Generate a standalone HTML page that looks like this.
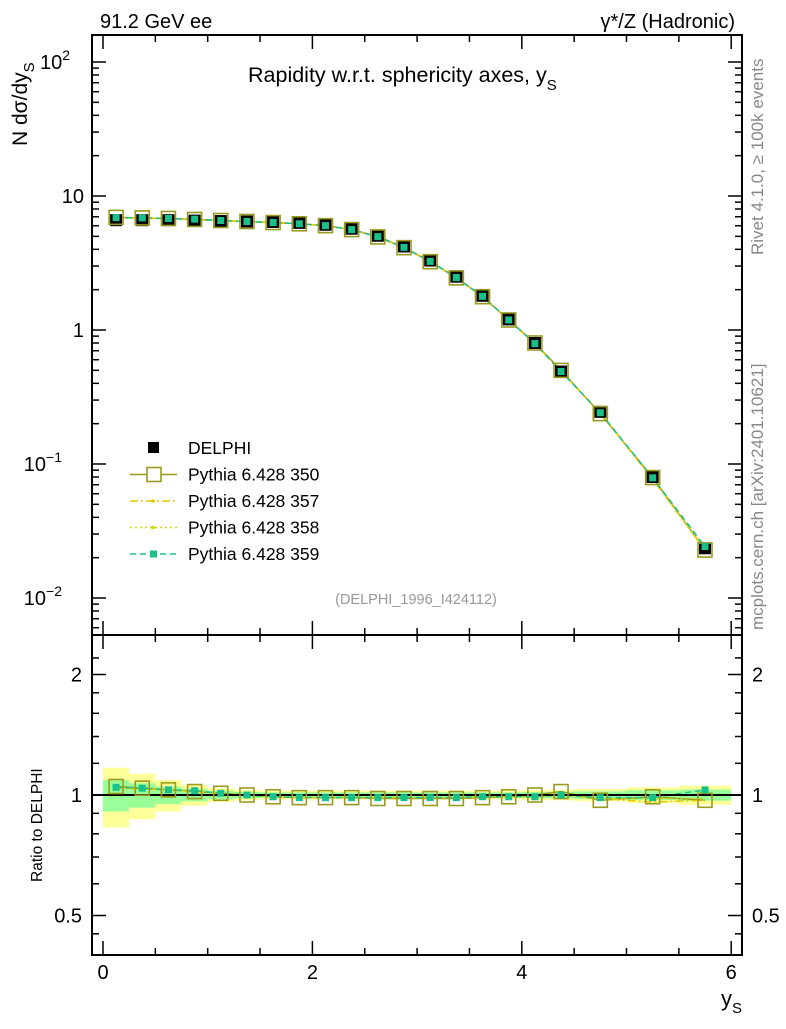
<!DOCTYPE html>
<html><head><meta charset="utf-8"><style>
body{margin:0;background:#fff;}
svg{font-family:"Liberation Sans",sans-serif;}
</style></head><body>
<svg id="chart" width="786" height="1024" viewBox="0 0 786 1024" xmlns="http://www.w3.org/2000/svg">
<g id="bands"></g>
<g id="marks"></g>
<g id="axes"></g>
<text x="100" y="28" font-size="20">91.2 GeV ee</text>
<text x="735" y="28" font-size="20" text-anchor="end">γ*/Z (Hadronic)</text>
<text x="248" y="82" font-size="21.5">Rapidity w.r.t. sphericity axes, y<tspan font-size="15" dy="8">S</tspan></text>
<text transform="translate(27,146) rotate(-90)" font-size="21">N   dσ/dy<tspan font-size="15" dy="7">S</tspan></text>
<text transform="translate(42,882) rotate(-90)" font-size="15.5">Ratio to DELPHI</text>
<text x="742" y="1006" font-size="22" text-anchor="end">y<tspan font-size="15" dy="7">S</tspan></text>
<text transform="translate(763,255) rotate(-90)" font-size="17" fill="#888">Rivet 4.1.0, ≥ 100k events</text>
<text transform="translate(763,630) rotate(-90)" font-size="17" fill="#888">mcplots.cern.ch [arXiv:2401.10621]</text>
<text x="416" y="604" font-size="14.5" fill="#999" text-anchor="middle">(DELPHI_1996_I424112)</text>
<g id="legend"></g>
</svg>
<script>
const xs=[0.125,0.375,0.625,0.875,1.125,1.375,1.625,1.875,2.125,2.375,2.625,2.875,3.125,3.375,3.625,3.875,4.125,4.375,4.75,5.25,5.75];
const edges=[0,0.25,0.5,0.75,1,1.25,1.5,1.75,2,2.25,2.5,2.75,3,3.25,3.5,3.75,4,4.25,4.5,5,5.5,6];
const dataVals=[6.6,6.6,6.6,6.55,6.5,6.45,6.4,6.3,6.1,5.7,5.05,4.2,3.3,2.5,1.8,1.2,0.8,0.49,0.245,0.08,0.0235];
const r350=[1.05,1.04,1.03,1.02,1.01,1.0,0.99,0.985,0.985,0.985,0.98,0.98,0.98,0.98,0.985,0.99,1.0,1.02,0.97,0.99,0.97];
const r357=[1.04,1.035,1.03,1.02,1.01,1.0,0.99,0.985,0.985,0.985,0.985,0.985,0.985,0.985,0.99,0.99,0.99,1.0,0.98,0.96,0.97];
const r358=[1.04,1.035,1.03,1.02,1.01,1.0,0.99,0.985,0.985,0.985,0.985,0.985,0.985,0.985,0.99,0.99,0.99,1.0,0.98,0.98,0.98];
const r359=[1.045,1.04,1.03,1.025,1.01,1.0,0.99,0.985,0.985,0.985,0.985,0.985,0.985,0.985,0.99,0.99,0.99,1.0,0.985,0.985,1.03];
const errY=[0.17,0.13,0.09,0.06,0.04,0.03,0.025,0.025,0.025,0.025,0.025,0.025,0.025,0.025,0.025,0.025,0.03,0.03,0.035,0.045,0.055];
const errG=[0.09,0.07,0.05,0.035,0.025,0.018,0.015,0.015,0.015,0.015,0.015,0.015,0.015,0.015,0.015,0.015,0.018,0.018,0.022,0.028,0.032];
const L=92,R=742,T=35,MB=635,RB=955;
const X=v=>103+v*104.7;
const Y=v=>330-Math.log10(v)*134;
const RY=v=>795-Math.log2(v)*120.5;
const NS='http://www.w3.org/2000/svg';
function mk(p,tag,a){const e=document.createElementNS(NS,tag);for(const k in a)e.setAttribute(k,a[k]);p.appendChild(e);return e;}
const bands=document.getElementById('bands'),marks=document.getElementById('marks'),axes=document.getElementById('axes');
for(let i=0;i<xs.length;i++){
 const b1=mk(bands,'rect',{x:X(edges[i]),width:X(edges[i+1])-X(edges[i]),y:RY(1+errY[i]),height:RY(1-errY[i])-RY(1+errY[i]),fill:'#ffff99'});
 
 
 const b2=mk(bands,'rect',{x:X(edges[i]),width:X(edges[i+1])-X(edges[i]),y:RY(1+errG[i]),height:RY(1-errG[i])-RY(1+errG[i]),fill:'#99ff99'});
 
 
}
const styles=[['#9a9a20','none','350'],['#e6c800','8,3,2,3','357'],['#d4d400','2,3','358'],['#19c08a','6,4','359']];
const mainFac=[r350,r357,r358,r359];
styles.forEach((s,k)=>{
 const pts=xs.map((x,i)=>X(x)+','+Y(dataVals[i]*mainFac[k][i])).join(' ');
 const pl=mk(marks,'polyline',{points:pts,fill:'none',stroke:s[0],'stroke-width':1.5,'stroke-dasharray':s[1]});
 
 
 const rp=xs.map((x,i)=>X(x)+','+RY(mainFac[k][i])).join(' ');
 const rl=mk(marks,'polyline',{points:rp,fill:'none',stroke:s[0],'stroke-width':1.5,'stroke-dasharray':s[1]});
 
 
});
const ref=mk(marks,'line',{x1:L,x2:R,y1:RY(1),y2:RY(1),stroke:'#000','stroke-width':2});


xs.forEach((x,i)=>{
 const d=mk(marks,'rect',{x:X(x)-6,y:Y(dataVals[i])-6,width:12,height:12,fill:'#000'});
 
 
 const p=mk(marks,'rect',{x:X(x)-7,y:Y(dataVals[i]*r350[i])-7,width:14,height:14,fill:'none',stroke:'#9a9a20','stroke-width':1.6});
 
 
 const q=mk(marks,'rect',{x:X(x)-3.5,y:Y(dataVals[i]*r359[i])-3.5,width:7,height:7,fill:'#19c08a'});
 
 
 const rp=mk(marks,'rect',{x:X(x)-7,y:RY(r350[i])-7,width:14,height:14,fill:'none',stroke:'#9a9a20','stroke-width':1.6});
 
 
 const rq=mk(marks,'rect',{x:X(x)-3.5,y:RY(r359[i])-3.5,width:7,height:7,fill:'#19c08a'});
 
 
});
[[T,MB],[MB,RB]].forEach(([a,b])=>{
 const f=mk(axes,'rect',{x:L,y:a,width:R-L,height:b-a,fill:'none',stroke:'#000','stroke-width':2});
 
 
});
for(let v=0;v<=6.01;v+=0.5){
 const len=(Math.abs(v%2)<0.01)?14:7;
 [[T,1],[MB,-1],[MB,1],[RB,-1]].forEach(([y0,dir])=>mk(axes,'line',{x1:X(v),x2:X(v),y1:y0,y2:y0+dir*len,stroke:'#000','stroke-width':1.5}));
}
['0','2','4','6'].forEach(t=>{
 const e=mk(axes,'text',{x:X(+t),y:979,'font-size':20,'text-anchor':'middle'});e.textContent=t;
 
 
});
for(let d=-3;d<=2;d++)for(let m=1;m<10;m++){
 const v=m*Math.pow(10,d),y=Y(v);if(y<T||y>MB)continue;
 const len=m==1?14:7;
 mk(axes,'line',{x1:L,x2:L+len,y1:y,y2:y,stroke:'#000','stroke-width':1.5});
 mk(axes,'line',{x1:R,x2:R-len,y1:y,y2:y,stroke:'#000','stroke-width':1.5});
}
[[2,'10','2'],[1,'10',''],[0,'1',''],[-1,'10','−1'],[-2,'10','−2']].forEach(([d,b,s])=>{
 const e=mk(axes,'text',{x:s?(s.length>1?62:70):84,y:Y(Math.pow(10,d))+7,'font-size':20,'text-anchor':'end'});
 e.textContent=b;
 if(s){const t=mk(e,'tspan',{'font-size':14,dy:-9});t.textContent=s;}
 
 
});
[0.45,0.5,0.6,0.7,0.8,0.9,1,1.2,1.4,1.6,1.8,2,2.2].forEach(v=>{
 const y=RY(v);if(y<MB||y>RB)return;
 const len=(v==0.5||v==1||v==2)?14:7;
 mk(axes,'line',{x1:L,x2:L+len,y1:y,y2:y,stroke:'#000','stroke-width':1.5});
 mk(axes,'line',{x1:R,x2:R-len,y1:y,y2:y,stroke:'#000','stroke-width':1.5});
});
[['2',2],['1',1],['0.5',0.5]].forEach(([t,v])=>{
 const a=mk(axes,'text',{x:82,y:RY(v)+7,'font-size':20,'text-anchor':'end'});a.textContent=t;
 
 
 const b=mk(axes,'text',{x:752,y:RY(v)+7,'font-size':20});b.textContent=t;
 
 
});
const lg=document.getElementById('legend');
const entries=[['DELPHI'],['Pythia 6.428 350'],['Pythia 6.428 357'],['Pythia 6.428 358'],['Pythia 6.428 359']];
entries.forEach((e,i)=>{
 const y=448+i*26.5;
 const g=mk(lg,'g',{});
 
 
 if(i==0)mk(g,'rect',{x:148,y:y-6,width:11,height:11,fill:'#000'});
 else{const s=styles[i-1];
  mk(g,'line',{x1:130,x2:177,y1:y,y2:y,stroke:s[0],'stroke-width':1.5,'stroke-dasharray':s[1]});
  if(i==1)mk(g,'rect',{x:147,y:y-7,width:14,height:14,fill:'#fff',stroke:s[0],'stroke-width':1.6});
  else if(i==4)mk(g,'rect',{x:150,y:y-3.5,width:7,height:7,fill:s[0]});
  else mk(g,'circle',{cx:153,cy:y,r:1.8,fill:s[0]});
 }
 const t=mk(g,'text',{x:188,y:y+6,'font-size':17.5});t.textContent=e[0];
});
</script>
</body></html>
